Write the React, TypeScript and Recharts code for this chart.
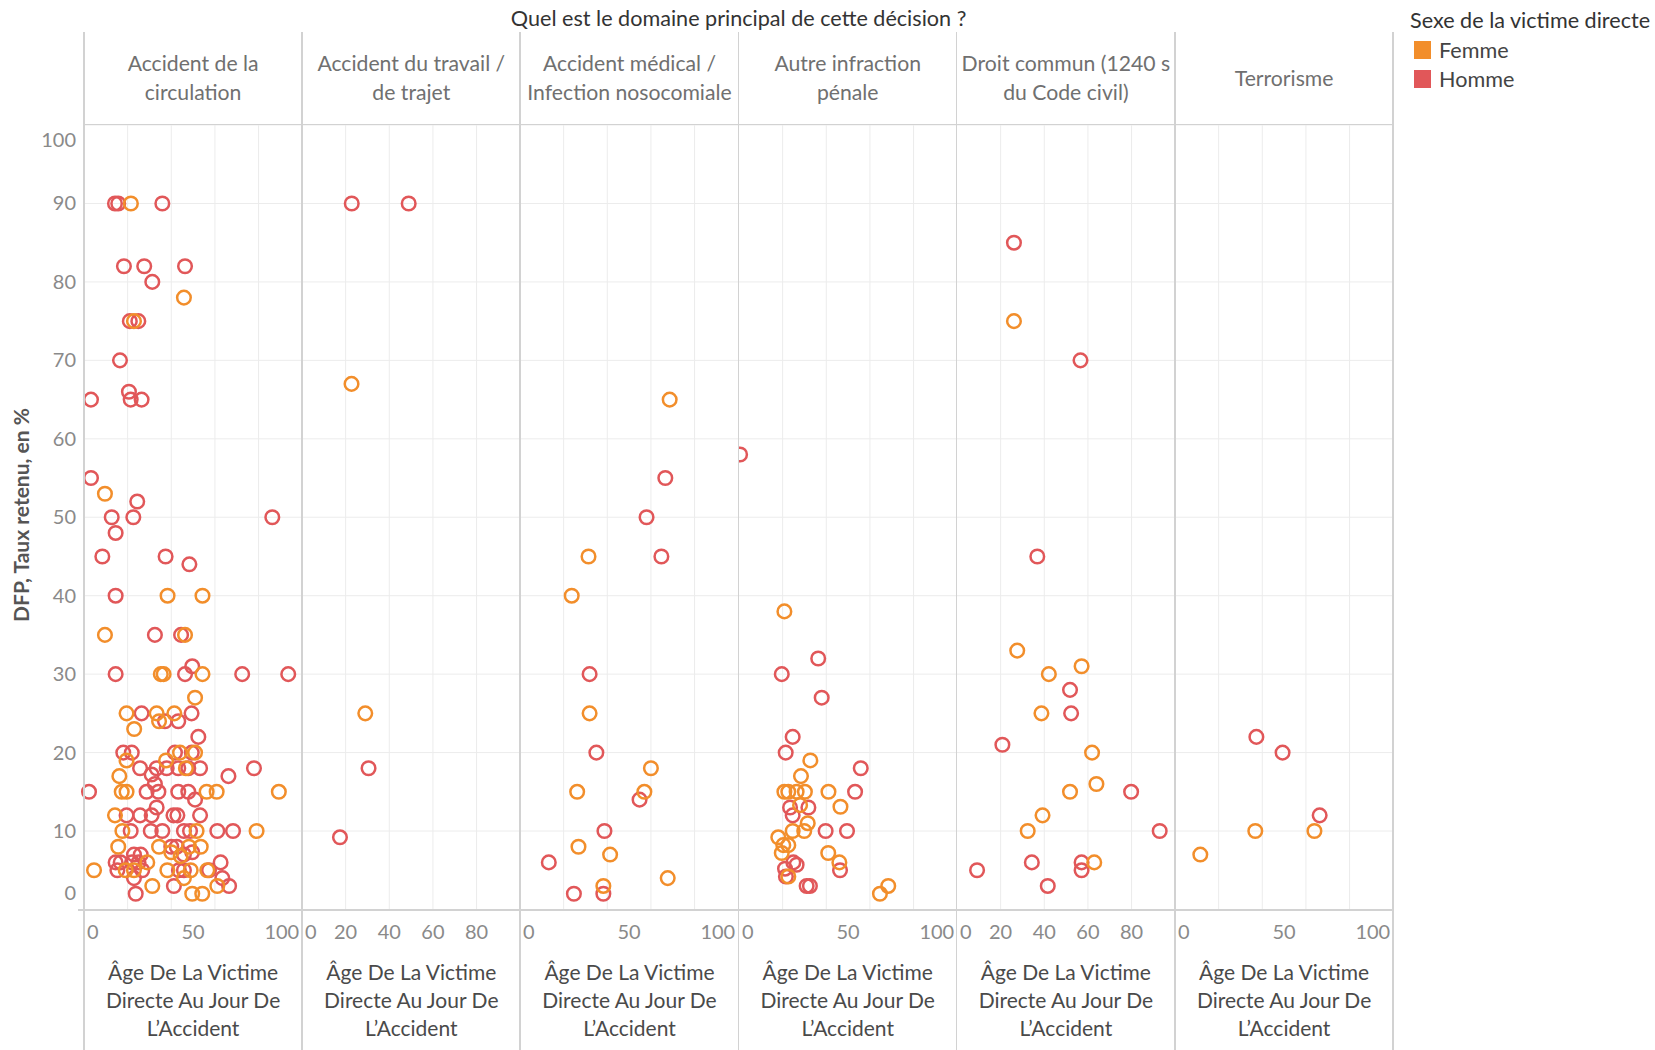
import React from "react";
import { ScatterChart, Scatter, XAxis, YAxis, CartesianGrid } from "recharts";

// [age, DFP %], one list per domain and sex
const circulationHomme = [
  [14.2, 90], [15.7, 90], [35.9, 90], [18.3, 82], [27.6, 82], [46.3, 82], [31.3, 80],
  [21, 75], [24.9, 75], [16.5, 70], [20.6, 66], [3.2, 65], [21.4, 65], [26.4, 65],
  [3.2, 55], [24.4, 52], [12.7, 50], [22.6, 50], [86.3, 50], [14.5, 48], [8.4, 45],
  [37.4, 45], [48.3, 44], [14.5, 40], [32.5, 35], [44.5, 35], [14.5, 30], [46.3, 30],
  [72.5, 30], [93.6, 30], [49.6, 31], [26.4, 25], [49.3, 25], [37.1, 24], [43.2, 24],
  [52.4, 22], [18, 20], [21.9, 20], [41.7, 20], [49.4, 20], [25.7, 18], [33.3, 18],
  [37.9, 18], [43.2, 18], [47.8, 18], [53.2, 18], [77.9, 18], [31, 17.2], [66.2, 17],
  [32.5, 16], [2.3, 15], [28.7, 15], [34.1, 15], [43.2, 15], [47.8, 15], [50.9, 14],
  [33.3, 13], [19.5, 12], [25.7, 12], [31, 12], [41, 12], [42.8, 12], [53.2, 12],
  [21.4, 10], [30.6, 10], [35.9, 10], [45.8, 10], [48.6, 10], [61.1, 10], [68.3, 10],
  [40, 8], [42.5, 8], [22.9, 7], [26, 7], [45.8, 7], [49.6, 7.3], [14.5, 6], [16.8, 6],
  [22, 6], [25, 6], [62.6, 6], [15.3, 5], [26.7, 5], [43.5, 5], [45.8, 5], [57.3, 5],
  [22.9, 4], [63.4, 4], [41.2, 3], [66.5, 3], [23.7, 2],
];
const circulationFemme = [
  [21.5, 90], [45.8, 78], [22.9, 75], [9.6, 53], [38.3, 40], [54.3, 40], [9.6, 35],
  [46.3, 35], [35.2, 30], [36.5, 30], [54.3, 30], [50.9, 27], [19.5, 25], [33.3, 25],
  [41.4, 25], [34.4, 24], [23, 23], [44, 20], [50.9, 20], [19.5, 19], [37.6, 19],
  [46.7, 18], [16.2, 17], [17.3, 15], [19.5, 15], [56.2, 15], [60.8, 15], [89.3, 15],
  [14.2, 12], [17.6, 10], [51.6, 10], [79.1, 10], [15.7, 8], [34.4, 8], [48.1, 8],
  [53.5, 8], [40, 7.3], [44.3, 6.8], [29, 6], [4.6, 5], [19.1, 5], [22.9, 5], [38.2, 5],
  [48.9, 5], [56.5, 5], [45.8, 4], [31.3, 3], [61.1, 3], [49.6, 2], [54.2, 2],
];
const travailHomme = [[22.8, 90], [48.9, 90], [30.5, 18], [17.4, 9.2]];
const travailFemme = [[22.7, 67], [29, 25]];
const medicalHomme = [
  [66.6, 55], [58, 50], [64.8, 45], [31.9, 30], [35, 20], [54.8, 14], [38.7, 10],
  [13.2, 6], [24.7, 2], [38.2, 2],
];
const medicalFemme = [
  [68.6, 65], [31.4, 45], [23.7, 40], [31.9, 25], [60, 18], [26.2, 15], [57, 15],
  [26.8, 8], [41.3, 7], [38.2, 3], [67.7, 4],
];
const penaleHomme = [
  [0.5, 58], [36.3, 32], [19.6, 30], [37.9, 27], [24.6, 22], [21.4, 20], [55.8, 18],
  [53.2, 15], [23.4, 13], [31.8, 13], [24.6, 12], [39.7, 10], [49.5, 10], [24.9, 6],
  [26.4, 5.7], [46.3, 5], [21.1, 5.2], [21.5, 4.2], [31, 3], [32.5, 3],
];
const penaleFemme = [
  [20.8, 38], [32.7, 19], [28.4, 17], [20.8, 15], [22.6, 15], [26.4, 15], [30.2, 15],
  [41, 15], [28, 13.3], [46.5, 13.1], [31.5, 11], [24.6, 10], [29.9, 10], [18, 9.2],
  [20.3, 8.2], [22.6, 8.2], [19.6, 7.2], [40.9, 7.2], [46, 6], [22.6, 4.2], [68.4, 3],
  [64.6, 2],
];
const droitHomme = [
  [26.1, 85], [56.6, 70], [36.8, 45], [51.8, 28], [52.3, 25], [20.8, 21], [79.8, 15],
  [92.9, 10], [34.3, 6], [57.1, 6], [57.1, 5], [9.2, 5], [41.6, 3],
];
const droitFemme = [
  [26.1, 75], [27.6, 33], [42.1, 30], [57.1, 31], [38.7, 25], [61.9, 20], [63.9, 16],
  [51.8, 15], [39.2, 12], [32.4, 10], [62.9, 6],
];
const terrorismeHomme = [[37.3, 22], [49.3, 20], [66.3, 12]];
const terrorismeFemme = [[36.8, 10], [63.9, 10], [11.6, 7]];

const panelTitles = [
  ["Accident de la", "circulation"],
  ["Accident du travail /", "de trajet"],
  ["Accident médical /", "Infection nosocomiale"],
  ["Autre infraction", "pénale"],
  ["Droit commun (1240 s", "du Code civil)"],
  ["Terrorisme"],
];
const xTicksWide = [0, 50, 100];
const xTicksNarrow = [0, 20, 40, 60, 80];
const yTicks = [0, 10, 20, 30, 40, 50, 60, 70, 80, 90, 100];
const gridX = [20, 40, 60, 80];

const FEMME = "#F28E2B";
const HOMME = "#E15759";
const FONT = 'Lato, "Noto Sans", sans-serif';

const PANEL_LEFT = 84;
const PANEL_W = 218.2;
const PLOT_TOP = 124.5;
const PLOT_H = 784.5;
const X_AXIS_H = 60;
const Y_AXIS_W = 84;

const toPoints = (arr: number[][]) => arr.map(([age, v]) => ({ age, v }));

const panels = [
  { homme: circulationHomme, femme: circulationFemme, ticks: xTicksWide },
  { homme: travailHomme, femme: travailFemme, ticks: xTicksNarrow },
  { homme: medicalHomme, femme: medicalFemme, ticks: xTicksWide },
  { homme: penaleHomme, femme: penaleFemme, ticks: xTicksWide },
  { homme: droitHomme, femme: droitFemme, ticks: xTicksNarrow },
  { homme: terrorismeHomme, femme: terrorismeFemme, ticks: xTicksWide },
];

const ring = (color: string) => (props: any) => (
  <circle cx={props.cx} cy={props.cy} r={6.8} fill="none" stroke={color} strokeWidth={2.5} />
);

function XTick(props: any) {
  const { x, y, payload } = props;
  const v = payload.value;
  let anchor = "middle";
  let dx = 0;
  if (v === 0) { anchor = "start"; dx = 3; }
  if (v === 100) { anchor = "end"; dx = -3; }
  return (
    <text x={x + dx} y={y} dy={22} textAnchor={anchor} fill="#8a8a8a" fontSize={20} fontFamily={FONT}>
      {v}
    </text>
  );
}

function YTick(props: any) {
  const { y, payload } = props;
  const v = payload.value;
  let dy = 7;
  if (v === 100) dy = 21.5;
  if (v === 0) dy = -9;
  return (
    <text x={76} y={y} dy={dy} textAnchor="end" fill="#8a8a8a" fontSize={20} fontFamily={FONT}>
      {v}
    </text>
  );
}

function Panel({ idx }: { idx: number }) {
  const p = panels[idx];
  const first = idx === 0;
  const left = first ? 0 : PANEL_LEFT + PANEL_W * idx;
  const width = first ? PANEL_W + Y_AXIS_W : PANEL_W;
  return (
    <div style={{ position: "absolute", left, top: PLOT_TOP }}>
      <ScatterChart width={width} height={PLOT_H + X_AXIS_H} margin={{ top: 0, right: 0, bottom: 0, left: 0 }}>
        <CartesianGrid stroke="#ececec" strokeWidth={1} horizontalValues={yTicks} verticalValues={gridX} />
        <XAxis
          type="number"
          dataKey="age"
          domain={[0, 100]}
          ticks={p.ticks}
          interval={0}
          height={X_AXIS_H}
          axisLine={false}
          tickLine={false}
          tick={<XTick />}
        />
        <YAxis
          type="number"
          dataKey="v"
          domain={[0, 100]}
          ticks={yTicks}
          interval={0}
          width={first ? Y_AXIS_W : 0}
          hide={!first}
          axisLine={false}
          tickLine={false}
          tick={<YTick />}
        />
        <Scatter name="Homme" data={toPoints(p.homme)} shape={ring(HOMME)} isAnimationActive={false} />
        <Scatter name="Femme" data={toPoints(p.femme)} shape={ring(FEMME)} isAnimationActive={false} />
      </ScatterChart>
    </div>
  );
}

export default function App() {
  const lineColor = "#d2d2d2";
  return (
    <div style={{ position: "absolute", left: 0, top: 0, width: 1655, height: 1050, background: "#fff", fontFamily: FONT, overflow: "hidden" }}>
      {panels.map((_, i) => (
        <Panel key={i} idx={i} />
      ))}

      {/* frame lines */}
      {Array.from({ length: 7 }).map((_, i) => (
        <div key={i} style={{ position: "absolute", left: PANEL_LEFT + PANEL_W * i - 1, top: 32, width: 1.5, height: 1018, background: lineColor }} />
      ))}
      <div style={{ position: "absolute", left: PANEL_LEFT, top: PLOT_TOP - 1, width: PANEL_W * 6, height: 1.5, background: lineColor }} />
      <div style={{ position: "absolute", left: 78, top: PLOT_TOP + PLOT_H, width: PANEL_W * 6 + 6, height: 1.5, background: lineColor }} />

      {/* title */}
      <div style={{ position: "absolute", left: PANEL_LEFT, width: PANEL_W * 6, top: 5, textAlign: "center", fontSize: 21.6, color: "#333", whiteSpace: "nowrap" }}>
        Quel est le domaine principal de cette décision ?
      </div>

      {/* panel headers */}
      {panelTitles.map((lines, i) => (
        <div key={i} style={{ position: "absolute", left: PANEL_LEFT + PANEL_W * i, width: PANEL_W, top: 32, height: PLOT_TOP - 32, display: "flex", flexDirection: "column", justifyContent: "center", alignItems: "center", fontSize: 21.2, lineHeight: "29px", color: "#707070", whiteSpace: "nowrap", overflow: "hidden" }}>
          {lines.map((l, j) => (
            <div key={j}>{l}</div>
          ))}
        </div>
      ))}

      {/* x axis titles */}
      {panelTitles.map((_, i) => (
        <div key={i} style={{ position: "absolute", left: PANEL_LEFT + PANEL_W * i, width: PANEL_W, top: 958, textAlign: "center", fontSize: 21, lineHeight: "28px", color: "#4a4a4a", whiteSpace: "nowrap" }}>
          <div>Âge De La Victime</div>
          <div>Directe Au Jour De</div>
          <div>L’Accident</div>
        </div>
      ))}

      {/* y axis title */}
      <svg style={{ position: "absolute", left: 0, top: 0 }} width={60} height={1050}>
        <text x={0} y={0} transform="translate(29,515) rotate(-90)" textAnchor="middle" fontSize={21} fontWeight={700} fill="#555" fontFamily={FONT}>
          DFP, Taux retenu, en %
        </text>
      </svg>

      {/* legend */}
      <div style={{ position: "absolute", left: 1410, top: 7, fontSize: 21.6, color: "#333", whiteSpace: "nowrap" }}>
        Sexe de la victime directe
      </div>
      {[["Femme", FEMME], ["Homme", HOMME]].map(([label, color], i) => (
        <div key={label} style={{ position: "absolute", left: 1414, top: 37 + i * 28.5, display: "flex", alignItems: "center", fontSize: 21.6, color: "#444" }}>
          <div style={{ width: 17, height: 18, background: color, marginRight: 8 }} />
          <span>{label}</span>
        </div>
      ))}
    </div>
  );
}
